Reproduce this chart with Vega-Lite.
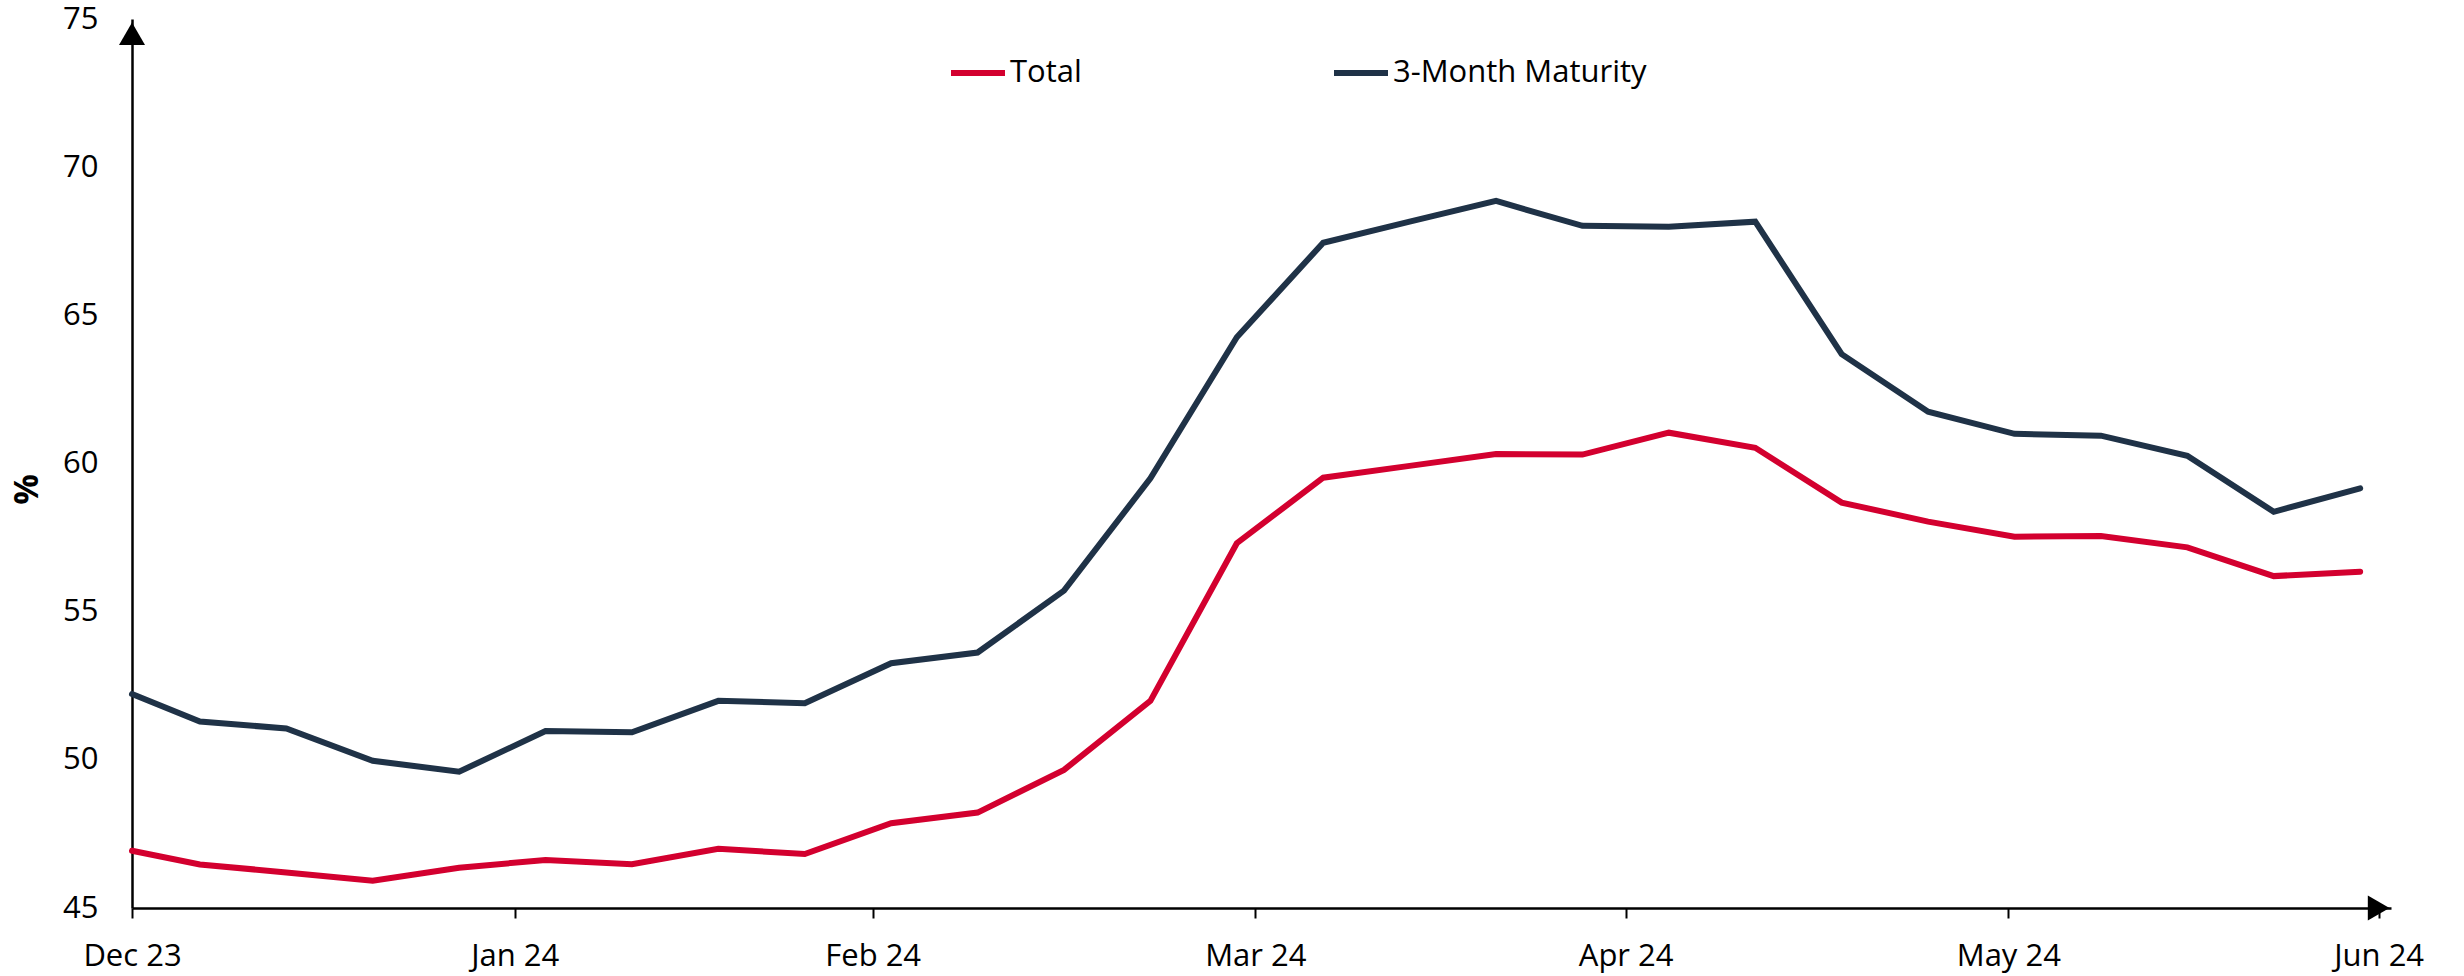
{
  "$schema": "https://vega.github.io/schema/vega-lite/v6.json",
  "autosize": {"type": "none"},
  "padding": {"left": 132, "top": 19, "right": 73, "bottom": 68},
  "width": 2259,
  "height": 889,
  "background": "white",
  "config": {
    "view": {"stroke": null},
    "font": "Open Sans",
    "axis": {"labelFont": "Open Sans", "titleFont": "Open Sans", "labelColor": "#000000", "titleColor": "#000000", "grid": false}
  },
  "datasets": {
    "series": [
      {"date": "2023-12-31T00:00:00Z", "series": "3-Month Maturity", "value": 52.22},
      {"date": "2024-01-05T12:00:00Z", "series": "3-Month Maturity", "value": 51.29},
      {"date": "2024-01-12T12:00:00Z", "series": "3-Month Maturity", "value": 51.06},
      {"date": "2024-01-19T12:00:00Z", "series": "3-Month Maturity", "value": 49.97},
      {"date": "2024-01-26T12:00:00Z", "series": "3-Month Maturity", "value": 49.60},
      {"date": "2024-02-02T12:00:00Z", "series": "3-Month Maturity", "value": 50.97},
      {"date": "2024-02-09T12:00:00Z", "series": "3-Month Maturity", "value": 50.93},
      {"date": "2024-02-16T12:00:00Z", "series": "3-Month Maturity", "value": 51.99},
      {"date": "2024-02-23T12:00:00Z", "series": "3-Month Maturity", "value": 51.91},
      {"date": "2024-03-01T12:00:00Z", "series": "3-Month Maturity", "value": 53.26},
      {"date": "2024-03-08T12:00:00Z", "series": "3-Month Maturity", "value": 53.62},
      {"date": "2024-03-15T12:00:00Z", "series": "3-Month Maturity", "value": 55.71},
      {"date": "2024-03-22T12:00:00Z", "series": "3-Month Maturity", "value": 59.50},
      {"date": "2024-03-29T12:00:00Z", "series": "3-Month Maturity", "value": 64.26},
      {"date": "2024-04-05T12:00:00Z", "series": "3-Month Maturity", "value": 67.45},
      {"date": "2024-04-12T12:00:00Z", "series": "3-Month Maturity", "value": 68.16},
      {"date": "2024-04-19T12:00:00Z", "series": "3-Month Maturity", "value": 68.86},
      {"date": "2024-04-26T12:00:00Z", "series": "3-Month Maturity", "value": 68.02},
      {"date": "2024-05-03T12:00:00Z", "series": "3-Month Maturity", "value": 67.99},
      {"date": "2024-05-10T12:00:00Z", "series": "3-Month Maturity", "value": 68.16},
      {"date": "2024-05-17T12:00:00Z", "series": "3-Month Maturity", "value": 63.69},
      {"date": "2024-05-24T12:00:00Z", "series": "3-Month Maturity", "value": 61.75},
      {"date": "2024-05-31T12:00:00Z", "series": "3-Month Maturity", "value": 61.00},
      {"date": "2024-06-07T12:00:00Z", "series": "3-Month Maturity", "value": 60.94},
      {"date": "2024-06-14T12:00:00Z", "series": "3-Month Maturity", "value": 60.26},
      {"date": "2024-06-21T12:00:00Z", "series": "3-Month Maturity", "value": 58.37},
      {"date": "2024-06-28T12:00:00Z", "series": "3-Month Maturity", "value": 59.16},
      {"date": "2023-12-31T00:00:00Z", "series": "Total", "value": 46.93},
      {"date": "2024-01-05T12:00:00Z", "series": "Total", "value": 46.47},
      {"date": "2024-01-12T12:00:00Z", "series": "Total", "value": 46.20},
      {"date": "2024-01-19T12:00:00Z", "series": "Total", "value": 45.92},
      {"date": "2024-01-26T12:00:00Z", "series": "Total", "value": 46.36},
      {"date": "2024-02-02T12:00:00Z", "series": "Total", "value": 46.62},
      {"date": "2024-02-09T12:00:00Z", "series": "Total", "value": 46.48},
      {"date": "2024-02-16T12:00:00Z", "series": "Total", "value": 47.00},
      {"date": "2024-02-23T12:00:00Z", "series": "Total", "value": 46.82},
      {"date": "2024-03-01T12:00:00Z", "series": "Total", "value": 47.86},
      {"date": "2024-03-08T12:00:00Z", "series": "Total", "value": 48.22},
      {"date": "2024-03-15T12:00:00Z", "series": "Total", "value": 49.66},
      {"date": "2024-03-22T12:00:00Z", "series": "Total", "value": 51.99},
      {"date": "2024-03-29T12:00:00Z", "series": "Total", "value": 57.31},
      {"date": "2024-04-05T12:00:00Z", "series": "Total", "value": 59.52},
      {"date": "2024-04-12T12:00:00Z", "series": "Total", "value": 59.92},
      {"date": "2024-04-19T12:00:00Z", "series": "Total", "value": 60.32},
      {"date": "2024-04-26T12:00:00Z", "series": "Total", "value": 60.30},
      {"date": "2024-05-03T12:00:00Z", "series": "Total", "value": 61.04},
      {"date": "2024-05-10T12:00:00Z", "series": "Total", "value": 60.53},
      {"date": "2024-05-17T12:00:00Z", "series": "Total", "value": 58.68},
      {"date": "2024-05-24T12:00:00Z", "series": "Total", "value": 58.04},
      {"date": "2024-05-31T12:00:00Z", "series": "Total", "value": 57.53},
      {"date": "2024-06-07T12:00:00Z", "series": "Total", "value": 57.55},
      {"date": "2024-06-14T12:00:00Z", "series": "Total", "value": 57.17},
      {"date": "2024-06-21T12:00:00Z", "series": "Total", "value": 56.20},
      {"date": "2024-06-28T12:00:00Z", "series": "Total", "value": 56.35}
    ]
  },
  "layer": [
    {
      "data": {"name": "series"},
      "mark": {"type": "line", "strokeWidth": 6, "strokeCap": "round", "strokeJoin": "miter"},
      "encoding": {
        "x": {
          "field": "date",
          "type": "temporal",
          "scale": {"type": "utc", "domain": [{"year": 2023, "month": 12, "date": 31, "utc": true}, {"year": 2024, "month": 7, "date": 1, "utc": true}]},
          "axis": {
            "title": null,
            "values": [
              {"year": 2023, "month": 12, "date": 31, "utc": true},
              {"year": 2024, "month": 1, "date": 31, "utc": true},
              {"year": 2024, "month": 2, "date": 29, "utc": true},
              {"year": 2024, "month": 3, "date": 31, "utc": true},
              {"year": 2024, "month": 4, "date": 30, "utc": true},
              {"year": 2024, "month": 5, "date": 31, "utc": true},
              {"year": 2024, "month": 6, "date": 30, "utc": true}
            ],
            "labelExpr": "utcFormat(datum.value, '%b %y')",
            "labelFontSize": 31,
            "labelFlush": false,
            "labelOverlap": false,
            "labelBound": false,
            "labelPadding": 23,
            "tickSize": 10,
            "tickWidth": 2,
            "tickColor": "#000000",
            "domainColor": "#000000",
            "domainWidth": 2.5
          }
        },
        "y": {
          "field": "value",
          "type": "quantitative",
          "scale": {"domain": [45, 75], "nice": false, "zero": false},
          "axis": {
            "title": "%",
            "titleFontSize": 34,
            "titleFontWeight": "bold",
            "titleAngle": -90,
            "titleAlign": "center",
            "titleBaseline": "middle",
            "titleX": -105,
            "titleY": 470,
            "values": [45, 50, 55, 60, 65, 70, 75],
            "labelFontSize": 31,
            "labelPadding": 34,
            "ticks": false,
            "domainColor": "#000000",
            "domainWidth": 2.5
          }
        },
        "color": {
          "field": "series",
          "type": "nominal",
          "scale": {"domain": ["Total", "3-Month Maturity"], "range": ["#d3002f", "#1f3247"]},
          "legend": {
            "title": null,
            "orient": "none",
            "legendX": 816,
            "legendY": 24,
            "direction": "horizontal",
            "columns": 2,
            "gridAlign": "all",
            "columnPadding": 58,
            "symbolType": "stroke",
            "symbolSize": 2916,
            "symbolStrokeWidth": 6,
            "labelFont": "Open Sans",
            "labelFontSize": 31,
            "labelColor": "#000000",
            "labelOffset": 2,
            "labelLimit": 600
          }
        }
      }
    },
    {
      "data": {"values": [{}]},
      "mark": {"type": "point", "shape": "triangle-up", "filled": true, "color": "#000000", "opacity": 1, "size": 676},
      "encoding": {
        "x": {"datum": {"year": 2023, "month": 12, "date": 31, "utc": true}, "type": "temporal"},
        "y": {"datum": 74.5, "type": "quantitative"}
      }
    },
    {
      "data": {"values": [{}]},
      "mark": {"type": "point", "shape": "triangle-right", "filled": true, "color": "#000000", "opacity": 1, "size": 625},
      "encoding": {
        "x": {"datum": {"year": 2024, "month": 6, "date": 30, "utc": true}, "type": "temporal"},
        "y": {"datum": 45, "type": "quantitative"}
      }
    }
  ]
}
